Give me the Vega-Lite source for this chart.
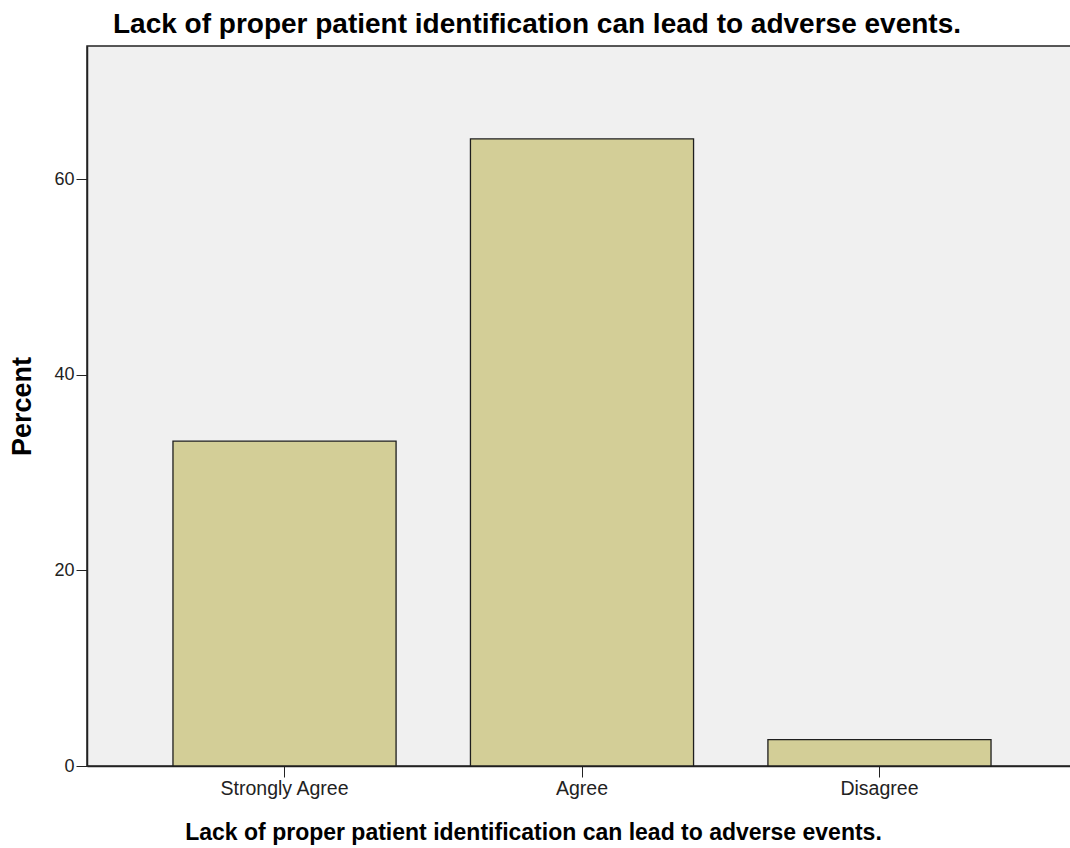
{
  "$schema": "https://vega.github.io/schema/vega-lite/v6.json",
  "width": 990,
  "height": 720,
  "autosize": {"type": "none"},
  "padding": {"left": 87, "top": 46, "right": 0, "bottom": 82},
  "background": "white",
  "title": {
    "text": "Lack of proper patient identification can lead to adverse events.",
    "font": "Liberation Sans",
    "fontSize": 28,
    "fontWeight": "bold",
    "color": "black",
    "anchor": "middle",
    "dx": -45,
    "offset": 7
  },
  "data": {
    "values": [
      {"response": "Strongly Agree", "percent": 33.2},
      {"response": "Agree", "percent": 64.1},
      {"response": "Disagree", "percent": 2.7}
    ]
  },
  "mark": {"type": "bar", "fill": "#d3ce97", "stroke": "#1e1e1e", "strokeWidth": 1.3},
  "encoding": {
    "x": {
      "field": "response",
      "type": "nominal",
      "sort": ["Strongly Agree", "Agree", "Disagree"],
      "scale": {"paddingInner": 0.25, "paddingOuter": 0.289},
      "axis": {
        "title": "Lack of proper patient identification can lead to adverse events.",
        "titleFont": "Liberation Sans",
        "titleFontSize": 23,
        "titleFontWeight": "bold",
        "titleColor": "black",
        "titleX": 446,
        "titleY": 73,
        "titleAlign": "center",
        "titleBaseline": "alphabetic",
        "labelAngle": 0,
        "labelFont": "Liberation Sans",
        "labelFontSize": 19.5,
        "labelColor": "#222222",
        "labelPadding": 2,
        "tickSize": 11,
        "tickColor": "#222222",
        "domainColor": "#222222",
        "domainWidth": 1.5
      }
    },
    "y": {
      "field": "percent",
      "type": "quantitative",
      "scale": {"domain": [0, 73.6], "nice": false},
      "axis": {
        "title": "Percent",
        "titleFont": "Liberation Sans",
        "titleFontSize": 27,
        "titleFontWeight": "bold",
        "titleColor": "black",
        "titleX": -65,
        "titleY": 360,
        "titleAlign": "center",
        "titleBaseline": "middle",
        "values": [0, 20, 40, 60],
        "grid": false,
        "labelFont": "Liberation Sans",
        "labelFontSize": 18,
        "labelColor": "#222222",
        "labelPadding": 2,
        "tickSize": 11,
        "tickColor": "#222222",
        "domainColor": "#222222",
        "domainWidth": 1.5
      }
    }
  },
  "config": {
    "view": {"fill": "#f0f0f0", "stroke": "#222222", "strokeWidth": 1.5}
  }
}
